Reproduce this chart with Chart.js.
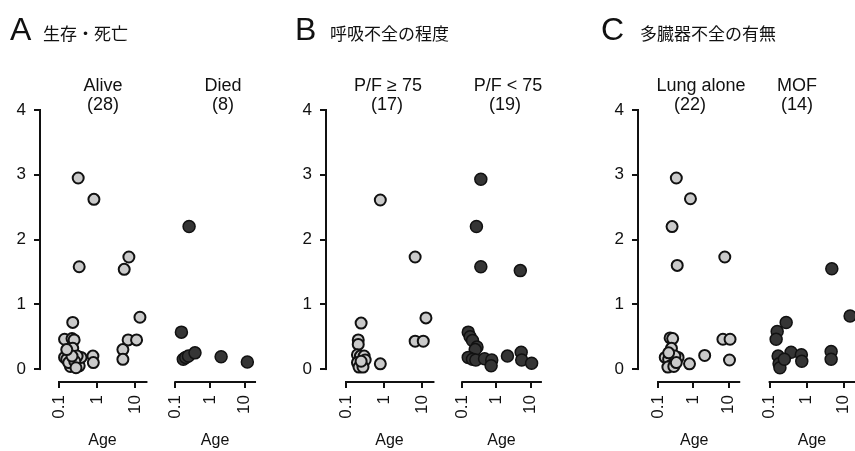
<!DOCTYPE html>
<html>
<head>
<meta charset="utf-8">
<script src="https://cdn.jsdelivr.net/npm/chart.js@4.4.0/dist/chart.umd.min.js"></script>
<style>
  body { margin: 0; background: #fff; }
  #fig { position: relative; width: 855px; height: 451px; overflow: hidden; }
  #fig canvas { position: absolute; top: 0; }
</style>
</head>
<body>
<div id="fig"></div>
<script>
// 축 눈금
const yTicks = [0, 1, 2, 3, 4];
const xTicks = [0.1, 1, 10];

// 패널 제목
const panelLetters = ['A', 'B', 'C'];
const panelTitles = ['生存・死亡', '呼吸不全の程度', '多臓器不全の有無'];
const groupNames = ['Alive', 'Died', 'P/F ≥ 75', 'P/F < 75', 'Lung alone', 'MOF'];

// A: 생존 / 사망
const ageAlive = [0.32, 0.83, 0.34, 6.9, 5.2, 4.8, 4.8, 6.6, 11, 13.5, 0.78, 0.8,
  0.23, 0.14, 0.22, 0.25, 0.23, 0.14, 0.16, 0.2, 0.18, 0.34, 0.38, 0.3, 0.26, 0.22, 0.16, 0.28];
const valAlive = [2.95, 2.62, 1.58, 1.73, 1.54, 0.3, 0.15, 0.45, 0.45, 0.8, 0.2, 0.1,
  0.72, 0.46, 0.47, 0.45, 0.32, 0.18, 0.15, 0.04, 0.1, 0.05, 0.18, 0.2, 0.12, 0.2, 0.3, 0.02];
const ageDied = [0.25, 0.15, 0.17, 0.2, 0.24, 0.37, 2.1, 12];
const valDied = [2.2, 0.57, 0.15, 0.18, 0.2, 0.25, 0.19, 0.11];

// B: P/F
const agePfHigh = [0.8, 6.6, 12.7, 6.6, 10.8, 0.8, 0.25, 0.21, 0.21, 0.2, 0.24, 0.3, 0.32, 0.2, 0.22, 0.28, 0.25];
const valPfHigh = [2.61, 1.73, 0.79, 0.43, 0.43, 0.08, 0.71, 0.45, 0.38, 0.22, 0.2, 0.2, 0.14, 0.1, 0.03, 0.03, 0.12];
const agePfLow = [0.35, 0.26, 0.35, 5.0, 0.15, 0.17, 0.2, 0.27, 0.24, 0.15, 0.2, 0.25, 0.45, 0.73, 0.7, 2.1, 5.3, 5.5, 10.7];
const valPfLow = [2.93, 2.2, 1.58, 1.52, 0.57, 0.5, 0.44, 0.34, 0.3, 0.18, 0.15, 0.14, 0.16, 0.14, 0.05, 0.2, 0.26, 0.14, 0.09];

// C: Lung alone / MOF
const ageLung = [0.33, 0.83, 0.25, 0.35, 7.8, 6.9, 11, 10.6, 0.78, 2.1,
  0.22, 0.26, 0.24, 0.16, 0.2, 0.37, 0.3, 0.24, 0.19, 0.28, 0.2, 0.33];
const valLung = [2.95, 2.63, 2.2, 1.6, 1.73, 0.46, 0.46, 0.14, 0.08, 0.21,
  0.48, 0.47, 0.32, 0.18, 0.15, 0.18, 0.2, 0.06, 0.03, 0.04, 0.25, 0.1];
const ageMof = [4.8, 0.28, 0.16, 0.15, 0.17, 0.18, 0.19, 0.38, 0.72, 0.74, 4.6, 4.6, 15, 0.25];
const valMof = [1.55, 0.72, 0.58, 0.46, 0.2, 0.08, 0.02, 0.26, 0.22, 0.12, 0.27, 0.15, 0.82, 0.15];

const FONT = '"Liberation Sans", Arial, sans-serif';
const JP = '"Noto Sans CJK JP", sans-serif';
const INK = '#111';
const LOG20 = Math.log10(20 / 0.1);

// 그룹 배치: 0.1 눈금 x, decade 당 px, 좌우 여백, 라벨 중심
const groups = [
  { ages: ageAlive, vals: valAlive, dark: false, p01: 59, dec: 38, yAxisX: 40, gapR: 19, nameX: 103, nX: 103, panel: 0 },
  { ages: ageDied, vals: valDied, dark: true, p01: 176, dec: 37, gapL: 11, gapR: 11, nameX: 223, nX: 223, panel: 0 },
  { ages: agePfHigh, vals: valPfHigh, dark: false, p01: 346, dec: 38, yAxisX: 326, gapR: 20, nameX: 388, nX: 387, panel: 1 },
  { ages: agePfLow, vals: valPfLow, dark: true, p01: 463, dec: 37, gapL: 10, gapR: 10, nameX: 508, nX: 505, panel: 1 },
  { ages: ageLung, vals: valLung, dark: false, p01: 659, dec: 37, yAxisX: 638, gapR: 12, nameX: 701, nX: 690, panel: 2 },
  { ages: ageMof, vals: valMof, dark: true, p01: 770, dec: 38, gapL: 14, gapR: 14, nameX: 797, nX: 797, panel: 2 }
];
const titlePos = [{ letter: 10, text: 43 }, { letter: 295, text: 330 }, { letter: 601, text: 640 }];

// R 스타일 축선 (x: 0.1~20, y: 0~4)
const axisLines = {
  id: 'axisLines',
  afterDraw(chart, args, opts) {
    const { ctx, chartArea } = chart;
    const x = chart.scales.x, y = chart.scales.y;
    ctx.save();
    ctx.fillStyle = INK;
    const x0 = x.getPixelForValue(xTicks[0]), x1 = x.getPixelForValue(20);
    ctx.fillRect(x0 - 1, chartArea.bottom - 1, x1 - x0 + 2, 2);
    if (opts.showY) {
      const y0 = y.getPixelForValue(yTicks[0]), y4 = y.getPixelForValue(yTicks[yTicks.length - 1]);
      ctx.fillRect(chartArea.left - 1, y4 - 1, 2, y0 - y4 + 2);
    }
    ctx.restore();
  }
};

// 그룹 이름, 인원수, 패널 제목 (제목은 같은 패널의 두 캔버스에 모두 그려서 잘리지 않게)
const labels = {
  id: 'labels',
  afterDraw(chart, args, o) {
    const ctx = chart.ctx;
    ctx.save();
    ctx.fillStyle = INK;
    ctx.textBaseline = 'alphabetic';
    ctx.textAlign = 'center';
    ctx.font = '18px ' + FONT;
    ctx.fillText(o.name, o.nameX - o.off, 91);
    ctx.fillText('(' + o.n + ')', o.nX - o.off, 110);
    const t = titlePos[o.panel];
    ctx.textAlign = 'left';
    ctx.font = '32px ' + FONT;
    ctx.fillText(panelLetters[o.panel], t.letter - o.off, 40);
    ctx.font = '17px ' + JP;
    ctx.fillText(panelTitles[o.panel], t.text - o.off, 40);
    ctx.restore();
  }
};

const fig = document.getElementById('fig');

groups.forEach(function (g, gi) {
  const showY = g.yAxisX !== undefined;
  const gapL = showY ? g.p01 - g.yAxisX : g.gapL;
  const plotW = Math.round(gapL + LOG20 * g.dec + g.gapR);
  const axisW = showY ? 40 : 0;
  const logMin = -1 - gapL / g.dec;
  const off = g.p01 - gapL - axisW;

  const canvas = document.createElement('canvas');
  canvas.width = plotW + axisW;
  canvas.height = 451;
  canvas.style.left = off + 'px';
  fig.appendChild(canvas);

  new Chart(canvas, {
    type: 'scatter',
    data: {
      datasets: [{
        data: g.ages.map((a, i) => ({ x: a, y: g.vals[i] })),
        backgroundColor: g.dark ? '#353535' : '#cacaca',
        borderColor: INK,
        borderWidth: g.dark ? 1.5 : 2,
        pointRadius: g.dark ? 6 : 5.5
      }]
    },
    options: {
      responsive: false,
      animation: false,
      layout: { padding: { top: 110, left: 0, right: 0, bottom: 0 }, autoPadding: false },
      plugins: {
        legend: { display: false },
        tooltip: { enabled: false },
        axisLines: { showY: showY },
        labels: { name: groupNames[gi], n: g.ages.length, nameX: g.nameX, nX: g.nX, off: off, panel: g.panel }
      },
      scales: {
        x: {
          type: 'logarithmic',
          min: Math.pow(10, logMin),
          max: Math.pow(10, logMin + plotW / g.dec),
          afterBuildTicks: s => { s.ticks = xTicks.map(v => ({ value: v })); },
          afterFit: s => { s.height = 69; },
          border: { display: false },
          grid: { drawOnChartArea: false, tickLength: 6, lineWidth: 2, color: INK },
          ticks: {
            autoSkip: false, minRotation: 90, maxRotation: 90, padding: 7,
            color: INK, font: { size: 17, family: FONT },
            callback: v => String(v)
          },
          title: {
            display: true, text: 'Age', color: INK,
            font: { size: 16, family: FONT }, padding: { top: 0, bottom: 1 }
          }
        },
        y: {
          display: showY,
          min: -0.2,
          max: 4,
          afterBuildTicks: s => { s.ticks = yTicks.map(v => ({ value: v })); },
          afterFit: s => { s.width = axisW; },
          border: { display: false },
          grid: { drawOnChartArea: false, tickLength: 6, lineWidth: 2, color: INK },
          ticks: { padding: 8, color: INK, font: { size: 17, family: FONT } }
        }
      }
    },
    plugins: [axisLines, labels]
  });
});
</script>
</body>
</html>
